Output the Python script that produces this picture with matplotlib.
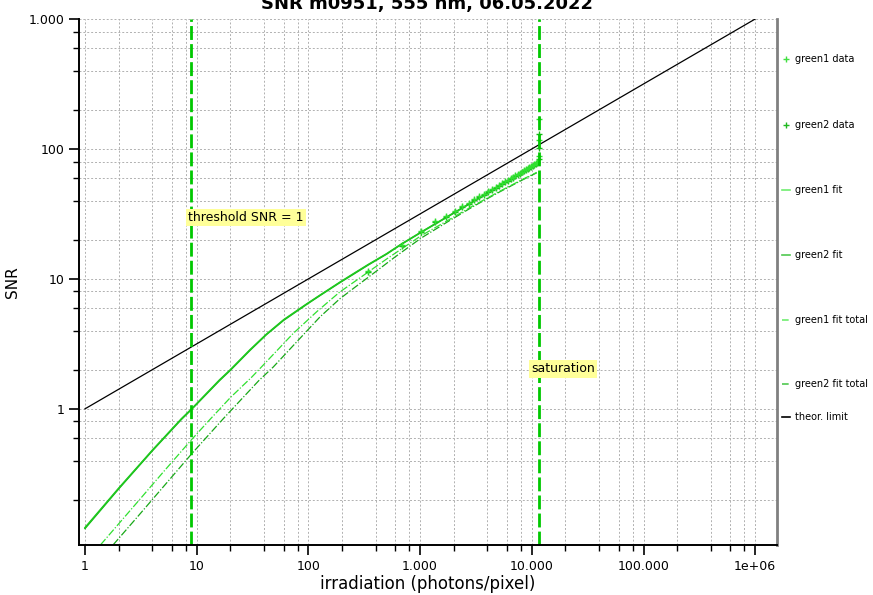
import matplotlib
matplotlib.use("Agg")
import matplotlib.pyplot as plt
from matplotlib.ticker import FixedLocator, LogLocator, NullFormatter
from matplotlib.lines import Line2D

# measured data points (irradiation in photons/pixel, SNR)
data_x = [343, 683, 1020, 1360, 1700, 2040, 2380, 2720, 3060, 3400, 3740,
          4080, 4420, 4760, 5100, 5440, 5780, 6120, 6460, 6800, 7140, 7480,
          7820, 8160, 8500, 8840, 9180, 9520, 9860, 10200, 10540, 10880,
          11220, 11560, 11600, 11620]
green1_data = [11.6, 18.3, 23.3, 27.7, 30.5, 33.4, 36.1, 38.6, 40.9, 43.2,
               45.3, 47.3, 49.2, 51.0, 52.8, 54.6, 56.2, 57.9, 59.5, 61.0,
               62.5, 64.0, 65.5, 66.9, 68.3, 69.6, 71.0, 72.3, 73.6, 75.0,
               76.4, 77.9, 79.5, 88.0, 118.0, 171.0]
green2_data = [11.4, 17.9, 22.8, 27.2, 30.0, 32.9, 35.5, 38.0, 40.3, 42.6,
               44.6, 46.6, 48.5, 50.3, 52.1, 53.8, 55.4, 57.1, 58.6, 60.1,
               61.6, 63.1, 64.5, 65.9, 67.3, 68.6, 69.9, 71.2, 72.5, 73.8,
               75.1, 76.5, 78.0, 84.0, 101.0, 131.0]

# fitted curves
fit_x = [1, 2, 4, 7.3, 9, 16, 20, 30, 42, 60, 96, 127, 190, 250, 343, 500,
         683, 1020, 1850, 3060, 5100, 8160, 11560]
green1_fit = [0.122, 0.245, 0.48, 0.84, 1.0, 1.67, 2.0, 2.85, 3.75, 4.85,
              6.4, 7.5, 9.4, 10.9, 12.9, 15.6, 18.6, 22.9, 31.0, 40.0, 51.8,
              65.5, 78.5]
green2_fit = [0.12, 0.242, 0.475, 0.83, 0.99, 1.65, 1.98, 2.82, 3.72, 4.8,
              6.35, 7.45, 9.33, 10.8, 12.8, 15.5, 18.5, 22.8, 30.8, 39.7,
              51.4, 65.0, 78.0]

tot1_x = [1.38, 3, 5, 9, 13, 20, 31, 37, 73, 119, 190, 290, 500, 1020, 1850,
          3060, 5100, 8160, 11060]
green1_fit_total = [0.09, 0.195, 0.325, 0.58, 0.82, 1.22, 1.75, 2.05, 3.8,
                    5.6, 7.9, 10.2, 14.2, 21.5, 28.8, 37.0, 47.0, 58.0, 66.0]
tot2_x = [1.79, 3, 5, 9, 17.3, 36, 48.5, 127, 190, 260, 344, 600, 1020, 1850,
          3060, 5100, 8160, 11060]
green2_fit_total = [0.09, 0.15, 0.25, 0.45, 0.84, 1.65, 2.1, 5.1, 7.0, 8.6,
                    10.3, 14.8, 20.6, 28.2, 36.5, 46.5, 57.5, 65.5]

theor_x = [1, 1e6]
theor_y = [1, 1000]

threshold_x = 8.9
saturation_x = 11600

x_major = [1, 10, 100, 1000, 10000, 100000, 1000000]
x_labels = ["1", "10", "100", "1.000", "10.000", "100.000", "1e+06"]
y_major = [1, 10, 100, 1000]
y_labels = ["1", "10", "100", "1.000"]

fig = plt.figure(figsize=(8.73, 5.95), dpi=100)
ax = fig.add_axes([79 / 873, 1 - 545 / 595, 698 / 873, 526 / 595])
ax.set_xscale("log")
ax.set_yscale("log")
ax.set_xlim(0.884, 1.567e6)
ax.set_ylim(0.0896, 1000)

# grid on major and minor (2,4,6,8) positions
ax.xaxis.set_major_locator(FixedLocator(x_major))
ax.xaxis.set_minor_locator(LogLocator(base=10, subs=(2, 4, 6, 8), numticks=30))
ax.yaxis.set_major_locator(FixedLocator(y_major))
ax.yaxis.set_minor_locator(LogLocator(base=10, subs=(2, 4, 6, 8), numticks=30))
ax.set_xticklabels(x_labels)
ax.set_yticklabels(y_labels)
ax.xaxis.set_minor_formatter(NullFormatter())
ax.yaxis.set_minor_formatter(NullFormatter())
ax.grid(which="both", color="#b0b0b0", linestyle=(0, (2, 2)), linewidth=0.7)
ax.set_axisbelow(True)

ax.tick_params(which="major", direction="out", length=7, width=1.2, labelsize=9)
ax.tick_params(which="minor", direction="out", length=4, width=1)
ax.spines["top"].set_visible(False)
ax.spines["right"].set_color("#808080")
ax.spines["right"].set_linewidth(2)
ax.spines["left"].set_linewidth(1.4)
ax.spines["bottom"].set_linewidth(1.4)

# curves
ax.plot(theor_x, theor_y, color="black", lw=0.9)
ax.plot(tot2_x, green2_fit_total, color="#18a818", lw=0.9, ls=(0, (6, 1.5, 1, 1.5)))
ax.plot(tot1_x, green1_fit_total, color="#30e030", lw=0.9, ls=(0, (6, 1.5, 1, 1.5)))
ax.plot(fit_x, green2_fit, color="#10b810", lw=1.1)
ax.plot(fit_x, green1_fit, color="#20c820", lw=1.1)
ax.plot(data_x, green2_data, ls="none", marker="+", ms=5, mew=1, color="#18b818")
ax.plot(data_x, green1_data, ls="none", marker="+", ms=5, mew=1, color="#30e030")

ax.axvline(threshold_x, color="#00c800", lw=2, ls=(0, (5, 1.5)))
ax.axvline(saturation_x, color="#00c800", lw=2, ls=(0, (5, 1.5)))

box = dict(facecolor="#ffff99", edgecolor="none", pad=1.5)
ax.text(8.4, 29.6, "threshold SNR = 1", fontsize=9, ha="left", va="center", bbox=box)
ax.text(9950, 2.03, "saturation", fontsize=9, ha="left", va="center", bbox=box)

ax.set_xlabel("irradiation (photons/pixel)", fontsize=12, labelpad=2)
ax.set_ylabel("SNR", fontsize=11, labelpad=6)

fig.text(427 / 873, 1 - 9 / 595, "SNR m0951, 555 nm, 06.05.2022", fontsize=13,
         fontweight="bold", ha="center", va="baseline")

# legend drawn by hand at the right side
legend_items = [
    ("green1 data", 59, "#40e040", "+", "none"),
    ("green2 data", 125, "#20b820", "+", "none"),
    ("green1 fit", 190, "#70ee70", "", "-"),
    ("green2 fit", 255, "#50c850", "", "-"),
    ("green1 fit total", 320, "#70ee70", "", (0, (4, 1, 1, 1))),
    ("green2 fit total", 384, "#50c850", "", (0, (4, 1, 1, 1))),
    ("theor. limit", 417, "black", "", "-"),
]
for label, ypix, col, mk, ls in legend_items:
    yf = 1 - ypix / 595
    if mk:
        fig.add_artist(Line2D([785.5 / 873], [yf], marker="+", ms=4, mew=1,
                              color=col, ls="none"))
    else:
        fig.add_artist(Line2D([782 / 873, 790 / 873], [yf, yf], color=col,
                              lw=1.2, ls=ls))
    fig.text(795 / 873, yf, label, fontsize=7, ha="left", va="center")

fig.savefig("out.png", dpi=100)
